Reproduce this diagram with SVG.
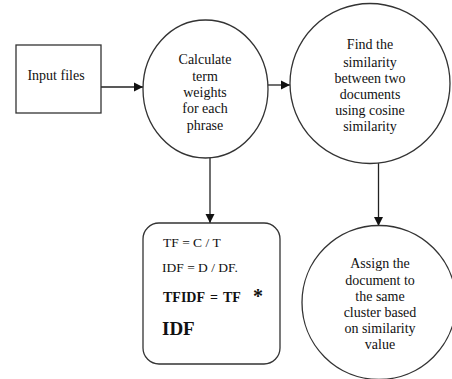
<svg xmlns="http://www.w3.org/2000/svg" width="452" height="379" viewBox="0 0 452 379">
<style>
.s{fill:#fff;stroke:#333;stroke-width:1.3}
.t{font-family:'Liberation Serif','Times New Roman','DejaVu Serif',serif;font-size:14px;fill:#111;text-anchor:middle}
.l{font-family:'Liberation Serif','Times New Roman','DejaVu Serif',serif;font-size:13.5px;fill:#111}
.b{font-weight:bold;font-size:14px}
.c{fill:none;stroke:#222;stroke-width:1.3}
</style>
<defs>
<marker id="a" markerWidth="10" markerHeight="10" refX="9" refY="5" orient="auto" markerUnits="userSpaceOnUse">
<path d="M0,0.5 L9,5 L0,9.5 Z" fill="#111"/>
</marker>
</defs>
<rect width="452" height="379" fill="#fff"/>
<g id="connectors">
<line class="c" x1="101" y1="87" x2="143" y2="87" marker-end="url(#a)"/>
<line class="c" x1="268" y1="85" x2="290" y2="85" marker-end="url(#a)"/>
<line class="c" x1="210" y1="158" x2="210" y2="223" marker-end="url(#a)"/>
<line class="c" x1="378.5" y1="163" x2="378.5" y2="226" marker-end="url(#a)"/>
</g>
<g id="input">
<rect class="s" x="16" y="45" width="85" height="68"/>
<text class="t" x="56" y="80">Input files</text>
</g>
<g id="calc">
<ellipse class="s" cx="205.5" cy="89" rx="62.5" ry="69"/>
<text class="t" x="205" y="64">Calculate</text>
<text class="t" x="205" y="81">term</text>
<text class="t" x="205" y="97">weights</text>
<text class="t" x="205" y="113">for each</text>
<text class="t" x="205" y="130">phrase</text>
</g>
<g id="similarity">
<circle class="s" cx="370" cy="83.5" r="80"/>
<text class="t" x="370" y="49">Find the</text>
<text class="t" x="370" y="67">similarity</text>
<text class="t" x="370" y="83">between two</text>
<text class="t" x="370" y="99">documents</text>
<text class="t" x="370" y="115">using cosine</text>
<text class="t" x="370" y="131">similarity</text>
</g>
<g id="formula">
<rect class="s" x="143" y="223" width="137" height="141" rx="16"/>
<text class="l" x="163" y="247">TF = C / T</text>
<text class="l" x="162" y="272">IDF = D / DF.</text>
<text class="l b" x="163" y="302">TFIDF</text>
<text class="l b" x="210" y="302">=</text>
<text class="l b" x="223" y="302">TF</text>
<text class="l b" x="253" y="303" style="font-size:20px">*</text>
<text class="l b" x="162" y="335" style="font-size:19px">IDF</text>
</g>
<g id="assign">
<circle class="s" cx="379" cy="302.5" r="77"/>
<text class="t" x="380" y="268">Assign the</text>
<text class="t" x="380" y="285">document to</text>
<text class="t" x="380" y="301">the same</text>
<text class="t" x="380" y="317">cluster based</text>
<text class="t" x="380" y="333">on similarity</text>
<text class="t" x="380" y="349">value</text>
</g>
</svg>
